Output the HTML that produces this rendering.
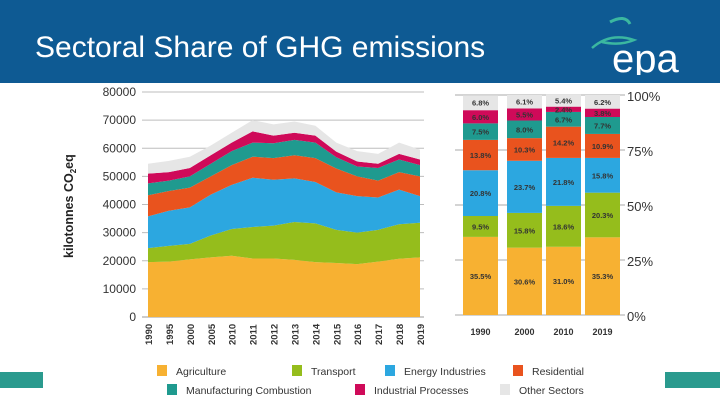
<!DOCTYPE html>
<html><head><meta charset="utf-8"><style>
body{margin:0;width:720px;height:405px;overflow:hidden;background:#fff;font-family:"Liberation Sans",sans-serif;position:relative}
#hdr{position:absolute;left:0;top:0;width:720px;height:83px;background:#0e5a93}
#title{position:absolute;left:35px;top:31px;color:#fff;font-size:30px}
.tb{position:absolute;height:16px;background:#2a9a8e;top:372px}
</style></head><body>
<div id="hdr"></div>
<div id="title">Sectoral Share of GHG emissions</div>
<svg style="position:absolute;left:590px;top:10px" width="110" height="65">
<path d="M20 12 Q35 4 40 14" stroke="#3bb7a0" stroke-width="3" fill="none"/>
<path d="M2 38 Q20 22 44 30 Q30 36 12 32" stroke="#3bb7a0" stroke-width="2.5" fill="none"/>
<text x="22" y="62" fill="#fff" font-size="40" font-family="Liberation Sans,sans-serif">epa</text>
</svg>
<div class="tb" style="left:0;width:43px"></div>
<div class="tb" style="left:665px;width:55px"></div>
<svg id="chart" width="720" height="405" style="position:absolute;left:0;top:0"></svg>
<script>
const years=["1990","1995","2000","2005","2010","2011","2012","2013","2014","2015","2016","2017","2018","2019"];
const agri=[19.5,19.7,20.5,21.2,21.8,20.8,20.8,20.3,19.5,19.2,18.8,19.7,20.7,21.2];
const transport=[5.0,5.6,5.5,7.8,9.5,11.2,11.7,13.5,13.8,11.8,11.2,11.3,12.3,12.3];
const energy=[11.3,12.5,13.0,14.5,15.7,17.5,16.3,15.5,14.7,13.3,13.0,11.5,12.3,9.5];
const residential=[7.5,7.0,7.0,6.5,7.0,7.5,7.7,8.2,8.5,8.5,7.0,6.0,6.2,7.0];
const manufacturing=[4.2,3.7,4.0,4.5,5.0,5.0,5.3,5.5,5.5,4.0,3.5,4.5,4.5,4.0];
const industrial=[3.5,3.0,3.0,3.0,3.0,4.0,2.7,2.5,2.5,2.0,1.8,1.5,2.0,2.0];
const other=[3.5,4.0,4.0,3.5,3.5,4.0,4.0,4.0,3.5,3.2,3.7,3.5,4.0,3.5];
const yTicks=[0,10000,20000,30000,40000,50000,60000,70000,80000];
const barYears=["1990","2000","2010","2019"];
const bAgri=[35.5,30.6,31.0,35.3];
const bTrans=[9.5,15.8,18.6,20.3];
const bEnergy=[20.8,23.7,21.8,15.8];
const bRes=[13.8,10.3,14.2,10.9];
const bMan=[7.5,8.0,6.7,7.7];
const bInd=[6.0,5.5,2.4,3.8];
const bOther=[6.8,6.1,5.4,6.2];
const pTicks=[0,25,50,75,100];
const names=["Agriculture","Transport","Energy Industries","Residential","Manufacturing Combustion","Industrial Processes","Other Sectors"];
const colors=["#f7b132","#95bd1c","#2ca7e0","#e9531e","#1f9a8f","#cf0a59","#e6e6e6"];
const NS="http://www.w3.org/2000/svg",svg=document.getElementById('chart');
function el(t,a,p){const e=document.createElementNS(NS,t);for(const k in a)e.setAttribute(k,a[k]);(p||svg).appendChild(e);return e;}
const X0=148,X1=420,Y0=317,Y1=92;
const xs=i=>X0+i*(X1-X0)/(years.length-1);
const ys=v=>Y0-(v/80000)*(Y0-Y1);
for(const t of yTicks){
 const g=el('line',{x1:X0-6,x2:X1+4,y1:ys(t),y2:ys(t),stroke:t?'#bdbdbd':'#999','stroke-width':1});
 
 const tx=el('text',{x:X0-12,y:ys(t)+4,'text-anchor':'end','font-size':12,fill:'#333'});tx.textContent=t;
 
}
const series=[agri,transport,energy,residential,manufacturing,industrial,other];
let base=years.map(()=>0);
series.forEach((s,k)=>{
 const top=base.map((b,i)=>b+s[i]);
 let d='M'+years.map((_,i)=>xs(i)+','+ys(top[i]*1000)).join('L');
 for(let i=years.length-1;i>=0;i--)d+='L'+xs(i)+','+ys(base[i]*1000);
 const p=el('path',{d:d+'Z',fill:colors[k]});
 
 
 base=top;
});
years.forEach((y,i)=>{
 const t=el('text',{x:0,y:0,transform:`translate(${xs(i)+4},${Y0+28}) rotate(-90)`,'font-size':9.5,fill:'#333','font-weight':'bold'});t.textContent=y;
 
});
const yt=el('text',{x:0,y:0,transform:'translate(73,258) rotate(-90)','font-size':12.5,'font-weight':'bold',fill:'#222'});
yt.innerHTML='kilotonnes CO<tspan font-size="8" dy="3">2</tspan><tspan dy="-3">eq</tspan>';

const BY0=315,BY1=95,bx=[463,507,546,585],bw=35;
const py=p=>BY0-p/100*(BY0-BY1);
for(const t of pTicks){
 const g=el('line',{x1:455,x2:625,y1:py(t),y2:py(t),stroke:'#aaa','stroke-width':1});
 
 const tx=el('text',{x:627,y:py(t)+6,'font-size':13,fill:'#333'});tx.textContent=t+'%';
 
}
const bs=[bAgri,bTrans,bEnergy,bRes,bMan,bInd,bOther];
barYears.forEach((y,j)=>{
 let b=0;
 bs.forEach((s,k)=>{
  const r=el('rect',{x:bx[j],width:bw,y:py(b+s[j]),height:py(b)-py(b+s[j]),fill:colors[k]});
  
  
  const t=el('text',{x:bx[j]+bw/2,y:(py(b)+py(b+s[j]))/2+3,'text-anchor':'middle','font-size':7.5,'font-weight':'bold',fill:'#333'});
  t.textContent=s[j].toFixed(1)+'%';
  
  b+=s[j];
 });
 const t=el('text',{x:bx[j]+bw/2,y:335,'text-anchor':'middle','font-size':9,fill:'#333','font-weight':'bold'});t.textContent=y;
 
});
const lpos=[[157,371],[292,371],[385,371],[513,371],[167,390],[355,390],[500,390]];
names.forEach((n,k)=>{
 const [x,y]=lpos[k];
 const r=el('rect',{x:x,y:y-6,width:10,height:11,fill:colors[k]});
 
 const t=el('text',{x:x+19,y:y+4,'font-size':10.5,fill:'#333'});t.textContent=n;
 
});
</script>
</body></html>
